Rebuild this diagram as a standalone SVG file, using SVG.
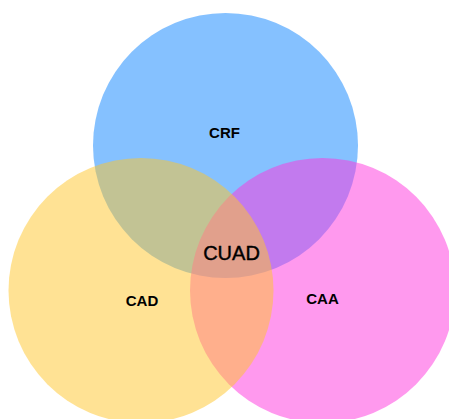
<svg xmlns="http://www.w3.org/2000/svg" width="449" height="419" viewBox="0 0 449 419">
<style>
.set{opacity:0.5}
.lbl{font-family:"Liberation Sans",Arial,sans-serif;font-weight:bold;font-size:15px;fill:#000;text-anchor:middle}
.core{font-family:"Liberation Sans",Arial,sans-serif;font-size:20px;fill:#000;stroke:#000;stroke-width:0.4;text-anchor:middle}
</style>
<rect width="449" height="419" fill="#ffffff"/>
<g id="CRF">
<circle class="set" cx="225.5" cy="145.5" r="132.5" fill="#0b83ff"/>
<text class="lbl" x="224.5" y="138">CRF</text>
</g>
<g id="CAA">
<circle class="set" cx="322.5" cy="290.5" r="132.5" fill="#ff33dd"/>
<text class="lbl" x="322.5" y="304">CAA</text>
</g>
<g id="CAD">
<circle class="set" cx="141" cy="290.5" r="132.5" fill="#ffc529"/>
<text class="lbl" x="142" y="306">CAD</text>
</g>
<g id="CUAD">
<text class="core" x="231.5" y="260">CUAD</text>
</g>
<g id="connectors"/>
</svg>
